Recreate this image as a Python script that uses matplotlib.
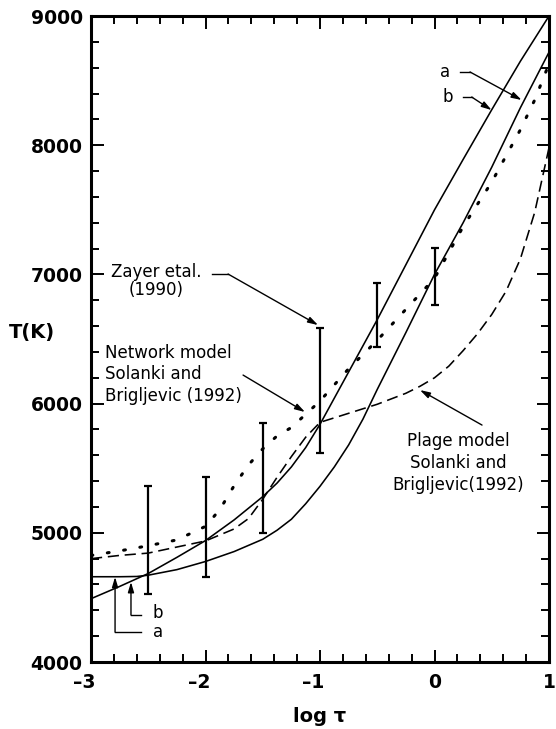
import matplotlib
matplotlib.use("Agg")
import matplotlib.pyplot as plt
from matplotlib.ticker import MultipleLocator, FixedLocator
from matplotlib.transforms import ScaledTranslation

# Temperature stratifications T(log tau) of the flux-tube models
logtau_a = [-3, -2.75, -2.6, -2.5, -2.25, -2, -1.75, -1.5, -1.375, -1.25,
            -1.125, -1, -0.875, -0.75, -0.625, -0.5, -0.25, 0, 0.25, 0.5,
            0.75, 1]
T_a = [4660, 4660, 4662, 4672, 4715, 4778, 4855, 4950, 5020, 5105,
       5225, 5360, 5510, 5680, 5880, 6110, 6550, 7000, 7400, 7830,
       8290, 8720]

logtau_b = [-3, -2.75, -2.5, -2.25, -2, -1.75, -1.5, -1.375, -1.25, -1.125,
            -1, -0.75, -0.5, -0.25, 0, 0.25, 0.5, 0.75, 1]
T_b = [4490, 4585, 4685, 4810, 4940, 5100, 5280, 5385, 5510, 5660,
       5840, 6245, 6650, 7075, 7500, 7890, 8275, 8650, 9000]

# Network model, Solanki and Brigljevic (1992)
logtau_net = [-3, -2.75, -2.5, -2.25, -2, -1.875, -1.75, -1.625, -1.5, -1.375,
              -1.25, -1, -0.75, -0.5, -0.25, 0, 0.25, 0.5, 0.75, 0.875, 1]
T_net = [4825, 4860, 4900, 4945, 5050, 5180, 5365, 5525, 5650, 5750,
         5815, 6020, 6270, 6490, 6730, 6970, 7370, 7715, 8120, 8350, 8630]

# Plage model, Solanki and Brigljevic (1992)
logtau_plage = [-3, -2.75, -2.5, -2.25, -2, -1.75, -1.625, -1.5, -1.375, -1.25,
                -1.125, -1, -0.75, -0.5, -0.25, -0.125, 0, 0.125, 0.25, 0.375,
                0.5, 0.625, 0.75, 0.875, 1]
T_plage = [4800, 4825, 4843, 4890, 4937, 5030, 5110, 5260, 5430, 5590,
           5740, 5855, 5925, 5995, 6080, 6135, 6200, 6290, 6410, 6540,
           6690, 6870, 7120, 7480, 7980]

# Zayer et al. (1990) ranges
zayer_logtau = [-2.5, -2, -1.5, -1, -0.5, 0]
zayer_lo = [4525, 4655, 5000, 5620, 6440, 6765]
zayer_hi = [5360, 5430, 5850, 6585, 6930, 7205]

x_ticks = [-3, -2, -1, 0, 1]
x_ticklabels = ["\u20133", "\u20132", "\u20131", "0", "1"]
y_ticks = [4000, 5000, 6000, 7000, 8000, 9000]

plt.rcParams.update({
    "font.family": "DejaVu Sans",
    "axes.linewidth": 2.2,
})

fig = plt.figure(figsize=(5.56, 7.29), dpi=100)
ax = fig.add_axes([0.1637, 0.0919, 0.8237, 0.8861])

line_kw = dict(color="black", lw=1.15)
ax.plot(logtau_a, T_a, **line_kw)
ax.plot(logtau_b, T_b, **line_kw)
ax.plot(logtau_net, T_net, color="black", lw=2.2,
        linestyle=(0, (0.6, 4.8)), dash_capstyle="round")
ax.plot(logtau_plage, T_plage, color="black", lw=1.15,
        linestyle=(0, (7, 3.6)))

mid = [(lo + hi) / 2 for lo, hi in zip(zayer_lo, zayer_hi)]
err = [[m - lo for m, lo in zip(mid, zayer_lo)],
       [hi - m for m, hi in zip(mid, zayer_hi)]]
ax.errorbar(zayer_logtau, mid, yerr=err, fmt="none", ecolor="black",
            elinewidth=1.6, capsize=2.6, capthick=1.6)

ax.set_xlim(-3, 1)
ax.set_ylim(4000, 9000)
ax.xaxis.set_major_locator(FixedLocator(x_ticks))
ax.set_xticklabels(x_ticklabels)
ax.xaxis.set_minor_locator(MultipleLocator(0.2))
ax.yaxis.set_major_locator(FixedLocator(y_ticks))
ax.yaxis.set_minor_locator(MultipleLocator(200))
ax.tick_params(which="both", direction="in", top=True, right=True,
               width=1.4, labelsize=13.5)
ax.tick_params(which="major", length=9)
ax.tick_params(which="minor", length=6)
ax.tick_params(axis="y", pad=6)
ax.tick_params(axis="x", pad=8)
for lbl in ax.get_yticklabels() + ax.get_xticklabels():
    lbl.set_fontweight("bold")
# keep the digit of negative labels centred on its tick
shift = ScaledTranslation(-6.5 / 100, 0, fig.dpi_scale_trans)
for lbl, v in zip(ax.get_xticklabels(), x_ticks):
    if v < 0:
        lbl.set_transform(lbl.get_transform() + shift)

ax.text(-3.52, 6550, "T(K)", fontsize=14, fontweight="bold",
        ha="center", va="center")
ax.text(-1.0, 3580, "log \u03c4", fontsize=14, fontweight="bold",
        ha="center", va="center")

txt = dict(fontsize=12, color="black")
arrow = dict(arrowstyle="-|>,head_length=0.6,head_width=0.18",
             color="black", lw=1.0, shrinkA=0, shrinkB=0)

# Zayer et al. label and leader
ax.text(-2.43, 6950, "Zayer etal.\n(1990)", ha="center", va="center",
        linespacing=1.05, **txt)
ax.plot([-1.943, -1.803], [7003, 7003], color="black", lw=1.0)
ax.annotate("", xy=(-1.017, 6608), xytext=(-1.803, 7003), arrowprops=arrow)

# network model label
ax.text(-2.875, 6229, "Network model\nSolanki and\nBrigljevic (1992)",
        ha="left", va="center", linespacing=1.25, **txt)
ax.annotate("", xy=(-1.131, 5935), xytext=(-1.672, 6221), arrowprops=arrow)

# plage model label
ax.text(0.205, 5540, "Plage model\nSolanki and\nBrigljevic(1992)",
        ha="center", va="center", linespacing=1.3, **txt)
ax.annotate("", xy=(-0.127, 6105), xytext=(0.415, 5834), arrowprops=arrow)

# a / b markers, top right
ax.text(0.092, 8567, "a", ha="center", va="center", **txt)
ax.plot([0.223, 0.310], [8567, 8567], color="black", lw=1.0)
ax.annotate("", xy=(0.761, 8350), xytext=(0.310, 8567), arrowprops=arrow)
ax.text(0.118, 8373, "b", ha="center", va="center", **txt)
ax.plot([0.252, 0.325], [8373, 8373], color="black", lw=1.0)
ax.annotate("", xy=(0.499, 8272), xytext=(0.325, 8373), arrowprops=arrow)

# a / b markers, bottom left
ax.text(-2.415, 4379, "b", ha="center", va="center", **txt)
ax.plot([-2.563, -2.651], [4364, 4364], color="black", lw=1.0)
ax.annotate("", xy=(-2.651, 4619), xytext=(-2.651, 4364), arrowprops=arrow)
ax.text(-2.415, 4232, "a", ha="center", va="center", **txt)
ax.plot([-2.563, -2.79], [4232, 4232], color="black", lw=1.0)
ax.annotate("", xy=(-2.79, 4658), xytext=(-2.79, 4232), arrowprops=arrow)

fig.savefig("out.png", dpi=100)
